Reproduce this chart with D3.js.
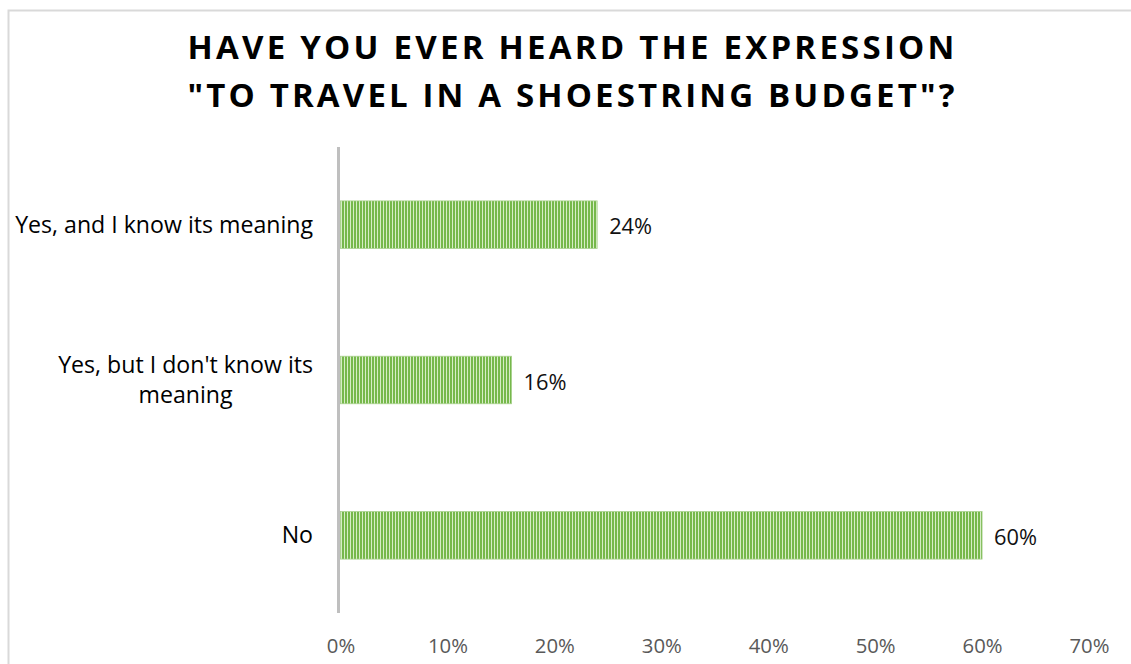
<!DOCTYPE html>
<html>
<head>
<meta charset="utf-8">
<script src="https://cdn.jsdelivr.net/npm/d3@7"></script>
<style>
  html, body { margin: 0; padding: 0; background: #fff; }
  svg { display: block; }
</style>
</head>
<body>
<svg id="chart" width="1131" height="664"></svg>
<script>
// Survey answers, top to bottom
const categories = [
  ["Yes, and I know its meaning"],
  ["Yes, but I don't know its", "meaning"],
  ["No"]
];
const categoryKeys = ["Yes, and I know its meaning", "Yes, but I don't know its meaning", "No"];
const shares = [0.24, 0.16, 0.60];
const tickValues = [0, 0.1, 0.2, 0.3, 0.4, 0.5, 0.6, 0.7];
const titleLines = ["HAVE YOU EVER HEARD THE EXPRESSION", "\"TO TRAVEL IN A SHOESTRING BUDGET\"?"];

const svg = d3.select("#chart");
const font = "'Open Sans', 'Liberation Sans', sans-serif";
const pct = d3.format(".0%");

// pick a font size so that a sample string spans the wanted width
function fitSize(sample, width, base, weight) {
  const t = svg.append("text").attr("font-family", font)
    .attr("font-weight", weight || 400).attr("font-size", base).text(sample);
  const w = t.node().getComputedTextLength();
  t.remove();
  return base * width / w;
}

// chart frame (runs past the right and bottom edges)
svg.append("rect")
  .attr("x", 8.5).attr("y", 10.5)
  .attr("width", 1200).attr("height", 700)
  .attr("fill", "#fff").attr("stroke", "#d9d9d9").attr("stroke-width", 2);

// striped fill for the bars
const defs = svg.append("defs");
const pat = defs.append("pattern")
  .attr("id", "stripes").attr("patternUnits", "userSpaceOnUse")
  .attr("width", 3).attr("height", 10);
pat.append("rect").attr("width", 3).attr("height", 10).attr("fill", "#d6edc6");
pat.append("rect").attr("width", 2).attr("height", 10).attr("fill", "#76b84b");

// title, spaced out to its full width
const titleWidth = 770;
titleLines.forEach((line, i) => {
  const t = svg.append("text")
    .attr("x", 571).attr("y", 59 + i * 48)
    .attr("text-anchor", "middle")
    .attr("font-family", font).attr("font-weight", 700)
    .attr("font-size", 33).attr("fill", "#000")
    .text(line);
  const w = t.node().getComputedTextLength();
  const n = line.length;
  const ls = (titleWidth - w) / n;
  t.attr("letter-spacing", ls).attr("dx", ls / 2);
});

const x = d3.scaleLinear().domain([0, 0.7]).range([340.5, 1089]);
const y = d3.scaleBand().domain(categoryKeys).range([147, 613])
  .paddingInner(0.694).paddingOuter(0.347);

// bars
svg.append("g").selectAll("rect")
  .data(shares)
  .join("rect")
  .attr("x", x(0))
  .attr("y", (d, i) => y(categoryKeys[i]))
  .attr("width", d => x(d) - x(0))
  .attr("height", y.bandwidth())
  .attr("fill", "url(#stripes)")
  .attr("stroke", "#a9d18e").attr("stroke-width", 0.8);

// value labels
const valueSize = fitSize("24%", 43, 20);
svg.append("g").selectAll("text")
  .data(shares)
  .join("text")
  .attr("x", d => x(d) + 12)
  .attr("y", (d, i) => y(categoryKeys[i]) + y.bandwidth() / 2 + 2)
  .attr("dy", "0.35em")
  .attr("font-family", font).attr("font-size", valueSize).attr("fill", "#111")
  .text(d => pct(d));

// vertical category axis line
svg.append("line")
  .attr("x1", 338.5).attr("x2", 338.5)
  .attr("y1", 147).attr("y2", 613)
  .attr("stroke", "#bfbfbf").attr("stroke-width", 3);

// category labels
const catSize = fitSize("Yes, and I know its meaning", 298, 20);
const catG = svg.append("g");
categories.forEach((lines, i) => {
  const cy = y(categoryKeys[i]) + y.bandwidth() / 2;
  const lh = 30;
  const g = catG.append("g");
  lines.forEach((ln, j) => {
    g.append("text")
      .attr("x", 313)
      .attr("y", cy + (j - (lines.length - 1) / 2) * lh)
      .attr("dy", "0.35em")
      .attr("text-anchor", "end")
      .attr("font-family", font).attr("font-size", catSize).attr("fill", "#000")
      .text(ln);
  });
  // wrapped second line sits centred under the first
  if (lines.length > 1) {
    const w0 = g.select("text").node().getComputedTextLength();
    g.selectAll("text").filter((d, j) => j > 0)
      .attr("x", 313 - w0 / 2).attr("text-anchor", "middle");
  }
});

// value axis labels
const tickSize = fitSize("70%", 40, 20);
const xAxis = d3.axisBottom(x).tickValues(tickValues)
  .tickFormat(pct).tickSize(0).tickPadding(0);
const ax = svg.append("g").attr("transform", "translate(0,646)").call(xAxis);
ax.select(".domain").remove();
ax.selectAll("text")
  .attr("dy", "0.35em")
  .attr("font-family", font).attr("font-size", tickSize).attr("fill", "#595959");
</script>
</body>
</html>
